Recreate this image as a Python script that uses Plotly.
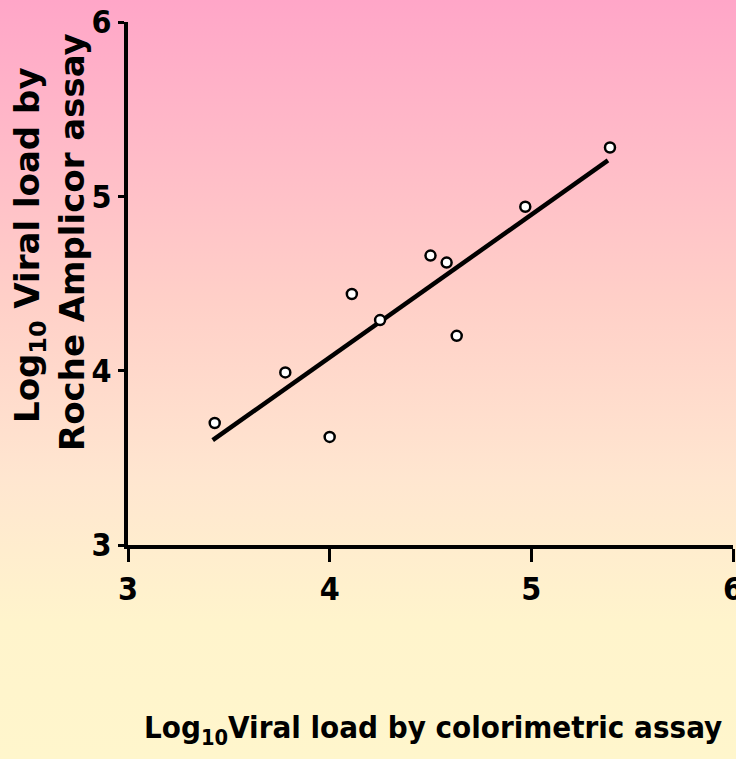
import base64
import numpy as np
import plotly.graph_objects as go

# Data
colorimetric = [3.43, 3.78, 4.00, 4.11, 4.25, 4.50, 4.58, 4.63, 4.97, 5.39]
amplicor = [3.70, 3.99, 3.62, 4.44, 4.29, 4.66, 4.62, 4.20, 4.94, 5.28]
tick_vals = [3, 4, 5, 6]
tick_text = ["3", "4", "5", "6"]

W, H = 736, 759
ML, MR, MT, MB = 128, 3, 22, 214
PW, PH = W - ML - MR, H - MT - MB

FONT = "DejaVu Sans Condensed, DejaVu Sans, sans-serif"
FONT_WIDE = "DejaVu Sans, sans-serif"

# regression line
slope, intercept = np.polyfit(colorimetric, amplicor, 1)
fx = np.array([min(colorimetric) - 0.01, max(colorimetric) - 0.01])
fy = slope * fx + intercept

svg = (
    '<svg xmlns="http://www.w3.org/2000/svg" width="100" height="100" preserveAspectRatio="none">'
    '<defs><linearGradient id="g" x1="0" y1="0" x2="0" y2="1">'
    '<stop offset="0" stop-color="#ffa6c8"/>'
    '<stop offset="0.40" stop-color="#ffd0c8"/>'
    '<stop offset="0.63" stop-color="#ffe6d0"/>'
    '<stop offset="0.82" stop-color="#fff4cc"/>'
    '<stop offset="1" stop-color="#fff6cc"/>'
    '</linearGradient></defs>'
    '<rect x="0" y="0" width="100" height="100" fill="url(#g)"/></svg>'
)
src = "data:image/svg+xml;base64," + base64.b64encode(svg.encode()).decode()

fig = go.Figure()
fig.add_trace(go.Scatter(x=fx, y=fy, mode="lines",
                         line=dict(color="black", width=4.5), hoverinfo="skip"))
fig.add_trace(go.Scatter(x=colorimetric, y=amplicor, mode="markers",
                         marker=dict(size=10, color="white",
                                     line=dict(color="black", width=2.5))))

tickfont = dict(family=FONT, size=32, color="black", weight="bold")

fig.update_layout(
    width=W, height=H,
    margin=dict(l=ML, r=MR, t=MT, b=MB, pad=0, autoexpand=False),
    paper_bgcolor="#fff6cc",
    plot_bgcolor="rgba(0,0,0,0)",
    showlegend=False,
    font=dict(family=FONT, color="black"),
    images=[dict(source=src, xref="paper", yref="paper",
                 x=-ML / PW, y=1 + MT / PH,
                 sizex=W / PW, sizey=H / PH,
                 xanchor="left", yanchor="top",
                 sizing="stretch", layer="below")],
    xaxis=dict(range=[3, 6], tickvals=tick_vals, ticktext=tick_text,
               showline=True, linewidth=4, linecolor="black",
               ticks="outside", ticklen=13, tickwidth=3, tickcolor="black",
               showgrid=False, zeroline=False, tickfont=tickfont,
               ticklabeloverflow="allow", automargin=False),
    yaxis=dict(range=[3, 6], tickvals=tick_vals, ticktext=tick_text,
               showline=True, linewidth=4, linecolor="black",
               ticks="outside", ticklen=6, tickwidth=3, tickcolor="black",
               showgrid=False, zeroline=False, tickfont=tickfont,
               ticklabeloverflow="allow", automargin=False),
)

fig.add_annotation(text="<b>Log<sub>10</sub> Viral load by</b>",
                   xref="paper", yref="paper",
                   x=(29 - ML) / PW, y=1 - (245 - MT) / PH,
                   xanchor="center", yanchor="middle", textangle=-90,
                   showarrow=False, font=dict(family=FONT_WIDE, size=34, color="black"))
fig.add_annotation(text="<b>Roche Amplicor assay</b>",
                   xref="paper", yref="paper",
                   x=(72 - ML) / PW, y=1 - (242 - MT) / PH,
                   xanchor="center", yanchor="middle", textangle=-90,
                   showarrow=False, font=dict(family=FONT_WIDE, size=34, color="black"))
fig.add_annotation(text="<b>Log<sub>10</sub>Viral load by colorimetric assay</b>",
                   xref="paper", yref="paper",
                   x=(433 - ML) / PW, y=-(729 - MT - PH) / PH,
                   xanchor="center", yanchor="middle",
                   showarrow=False, font=dict(family=FONT, size=31, color="black"))

fig.write_html("out.html", config={"displayModeBar": False},
               post_script="document.body.style.margin='0';document.body.style.padding='0';")
